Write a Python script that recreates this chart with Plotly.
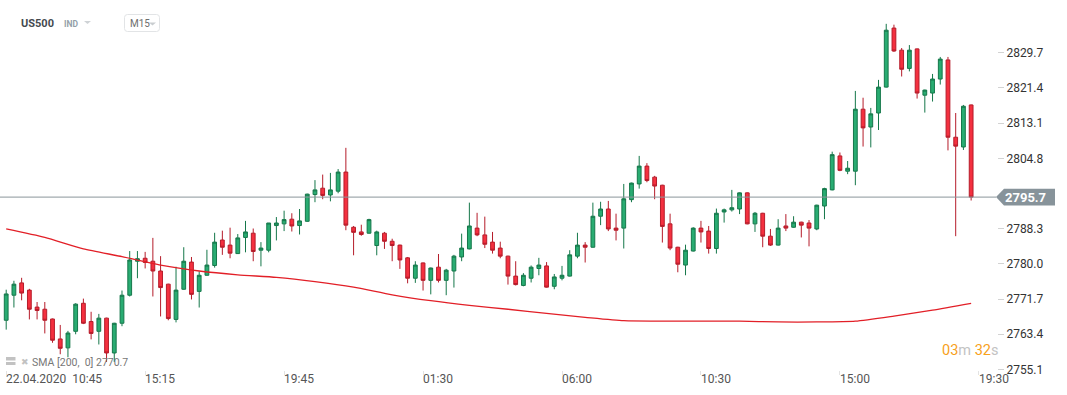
import plotly.graph_objects as go

# ---------------- data ----------------
OPEN = [2766.7, 2772.6, 2775.5, 2773.8, 2769.8, 2769.3, 2767.0, 2762.3, 2760.2, 2764.1,
        2770.7, 2766.4, 2764.1, 2767.2, 2759.0, 2766.0, 2772.6, 2780.6, 2781.3, 2780.6,
        2778.3, 2775.2, 2766.9, 2774.0, 2780.4, 2773.5, 2777.3, 2779.6, 2785.6, 2784.4,
        2782.4, 2786.2, 2787.2, 2783.2, 2783.2, 2789.0, 2789.4, 2790.5, 2789.0, 2790.0,
        2796.3, 2797.8, 2796.2, 2797.1, 2801.6, 2788.6, 2787.5, 2787.2, 2784.3, 2787.2,
        2785.3, 2784.4, 2781.4, 2776.6, 2780.2, 2776.1, 2779.2, 2776.1, 2778.3, 2781.6,
        2783.5, 2788.4, 2786.8, 2785.1, 2783.7, 2781.8, 2777.1, 2774.9, 2776.6, 2778.9,
        2779.5, 2774.7, 2776.6, 2777.1, 2781.8, 2784.4, 2783.9, 2791.2, 2792.9, 2788.4,
        2788.4, 2795.1, 2798.8, 2803.0, 2800.4, 2798.5, 2789.4, 2783.9, 2779.7, 2783.0,
        2788.4, 2787.7, 2783.6, 2792.2, 2792.7, 2792.9, 2796.7, 2789.4, 2791.9, 2786.5,
        2784.4, 2788.9, 2788.6, 2789.8, 2789.6, 2788.2, 2793.6, 2797.4, 2805.4, 2801.8,
        2801.8, 2816.4, 2812.2, 2815.5, 2821.6, 2835.5, 2830.3, 2826.0, 2830.6, 2819.7,
        2820.2, 2823.5, 2828.0, 2809.8, 2807.5, 2817.4]
HIGH = [2773.9, 2776.0, 2776.7, 2774.1, 2771.0, 2771.0, 2767.1, 2765.6, 2764.2, 2770.7,
        2771.8, 2768.7, 2768.2, 2767.3, 2766.1, 2773.7, 2783.0, 2783.0, 2782.8, 2786.1,
        2781.8, 2775.3, 2779.3, 2783.9, 2781.6, 2778.2, 2783.3, 2787.3, 2787.8, 2788.5,
        2787.0, 2790.1, 2788.3, 2785.1, 2789.6, 2791.0, 2792.5, 2791.9, 2792.9, 2796.5,
        2799.7, 2801.0, 2801.4, 2802.3, 2807.3, 2788.9, 2789.2, 2790.6, 2787.8, 2787.5,
        2785.9, 2784.5, 2781.6, 2780.6, 2780.3, 2779.1, 2782.3, 2778.8, 2782.1, 2787.1,
        2794.4, 2792.0, 2791.1, 2787.5, 2785.2, 2781.9, 2780.6, 2777.8, 2779.6, 2781.4,
        2780.4, 2777.6, 2779.5, 2783.2, 2787.3, 2785.1, 2794.4, 2794.6, 2794.8, 2791.8,
        2798.8, 2799.1, 2805.4, 2803.7, 2800.7, 2798.6, 2791.8, 2784.0, 2784.5, 2788.6,
        2790.1, 2788.9, 2793.0, 2793.0, 2797.4, 2796.8, 2796.8, 2792.2, 2792.0, 2788.2,
        2790.5, 2791.7, 2791.2, 2789.9, 2790.3, 2793.9, 2797.9, 2806.4, 2806.2, 2804.2,
        2820.7, 2819.1, 2816.7, 2823.3, 2836.5, 2836.3, 2830.8, 2831.5, 2830.7, 2821.0,
        2824.7, 2828.7, 2828.7, 2815.5, 2817.4, 2817.5]
LOW = [2764.5, 2769.7, 2771.4, 2766.9, 2766.9, 2763.6, 2761.4, 2758.7, 2758.0, 2763.4,
       2765.8, 2762.2, 2761.0, 2756.9, 2756.9, 2765.3, 2772.3, 2776.6, 2778.9, 2772.3,
       2767.6, 2766.7, 2766.2, 2773.9, 2771.6, 2769.7, 2777.2, 2779.1, 2782.1, 2781.3,
       2782.3, 2782.7, 2780.6, 2779.4, 2782.7, 2785.5, 2787.7, 2787.6, 2786.9, 2789.9,
       2794.5, 2795.2, 2794.7, 2796.6, 2787.9, 2782.0, 2786.6, 2787.1, 2782.0, 2783.5,
       2780.6, 2778.8, 2775.4, 2775.5, 2773.7, 2772.8, 2775.6, 2772.6, 2774.4, 2780.6,
       2783.4, 2786.5, 2783.7, 2782.4, 2781.3, 2775.1, 2774.9, 2774.7, 2775.6, 2777.3,
       2774.4, 2774.0, 2776.1, 2777.0, 2781.3, 2780.3, 2783.8, 2789.1, 2787.7, 2785.5,
       2783.6, 2794.5, 2797.7, 2799.2, 2795.2, 2785.0, 2783.2, 2778.0, 2777.3, 2782.9,
       2785.0, 2782.4, 2782.4, 2789.7, 2792.3, 2791.7, 2789.3, 2787.5, 2783.9, 2784.2,
       2784.3, 2787.7, 2788.5, 2786.2, 2784.1, 2787.9, 2790.5, 2797.3, 2801.8, 2801.1,
       2798.5, 2807.6, 2807.4, 2811.5, 2821.5, 2829.9, 2824.1, 2825.3, 2818.9, 2815.6,
       2818.2, 2822.2, 2806.7, 2786.5, 2806.8, 2794.9]
CLOSE = [2772.9, 2775.2, 2773.1, 2769.3, 2769.0, 2766.7, 2762.0, 2760.1, 2763.7, 2770.5,
         2766.0, 2763.6, 2767.2, 2759.0, 2766.0, 2772.6, 2780.9, 2781.2, 2780.3, 2778.3,
         2774.4, 2767.1, 2773.8, 2780.6, 2772.8, 2777.3, 2779.7, 2785.1, 2783.9, 2782.5,
         2786.1, 2787.5, 2782.9, 2783.7, 2789.6, 2789.6, 2790.4, 2788.9, 2790.1, 2796.4,
         2797.4, 2796.1, 2797.4, 2801.6, 2789.1, 2787.4, 2786.9, 2790.4, 2787.5, 2785.3,
         2784.3, 2780.9, 2776.6, 2779.7, 2776.1, 2779.0, 2776.1, 2778.5, 2781.8, 2783.7,
         2788.9, 2786.8, 2784.6, 2783.2, 2781.8, 2777.1, 2775.1, 2777.3, 2779.2, 2779.7,
         2774.5, 2776.9, 2777.3, 2782.1, 2784.4, 2783.9, 2791.2, 2792.9, 2788.2, 2787.9,
         2795.3, 2799.0, 2803.0, 2799.6, 2798.3, 2788.8, 2783.7, 2779.9, 2783.2, 2788.4,
         2787.5, 2783.6, 2791.9, 2792.7, 2793.2, 2796.7, 2789.4, 2791.9, 2786.5, 2784.4,
         2788.4, 2788.4, 2789.8, 2789.1, 2788.4, 2793.8, 2797.7, 2805.7, 2802.0, 2802.5,
         2816.4, 2812.0, 2815.3, 2821.6, 2835.0, 2830.1, 2825.8, 2830.3, 2820.2, 2820.9,
         2823.5, 2828.2, 2809.8, 2807.7, 2817.1, 2795.7]
BAR_INDEX = list(range(len(CLOSE)))

SMA_INDEX = [0, 5, 10, 15, 20, 25, 30, 35, 40, 45, 50, 55, 60, 65, 70, 75, 80, 85, 90, 95,
             100, 105, 110, 115, 120, 125]
SMA_VALUE = [2788.2, 2786.2, 2783.5, 2781.7, 2779.7, 2778.3, 2777.4, 2776.8, 2775.8, 2774.5,
             2772.7, 2771.3, 2770.2, 2769.3, 2768.3, 2767.4, 2766.6, 2766.5, 2766.5, 2766.5,
             2766.3, 2766.3, 2766.5, 2767.7, 2769.1, 2770.7]

TIME_INDEX = [0, 18, 36, 54, 72, 90, 108, 126]
TIME_LABELS = ["22.04.2020\u00a0\u00a010:45", "15:15", "19:45", "01:30", "06:00",
               "10:30", "15:00", "19:30"]

# the 2796.6 level is hidden under the live-price tag in the reference
PRICE_TICKS = [2755.1, 2763.4, 2771.7, 2780.0, 2788.3, 2804.8, 2813.1, 2821.4, 2829.7]

SYMBOL = "US500"
SYMBOL_TYPE = "IND"
TIMEFRAME = "M15"
SMA_LABEL = "SMA [200,\u00a0\u00a00] 2770.7"

# ---------------- layout geometry ----------------
W, H = 1067, 395
ML, MR, MT, MB = 0, 70, 0, 25
PW, PH = W - ML - MR, H - MT - MB
X_RANGE = [-0.803, 128.35]
Y_RANGE = [2754.99, 2842.11]
FONT = "Roboto"


def px(x):
    return x / PW


def py(y):
    return 1 - y / PH


fig = go.Figure()

fig.add_trace(go.Candlestick(
    x=BAR_INDEX, open=OPEN, high=HIGH, low=LOW, close=CLOSE,
    increasing=dict(fillcolor="#29ac72", line=dict(color="#15774a", width=1)),
    decreasing=dict(fillcolor="#f4303f", line=dict(color="#b51c2a", width=1)),
    whiskerwidth=0, showlegend=False, hoverinfo="skip",
))

fig.add_trace(go.Scatter(
    x=SMA_INDEX, y=SMA_VALUE, mode="lines",
    line=dict(color="#e21f27", width=1.3, shape="spline", smoothing=0.6),
    showlegend=False, hoverinfo="skip",
))

last = CLOSE[-1]
yc = (last - Y_RANGE[0]) / (Y_RANGE[1] - Y_RANGE[0])
half = 8.3 / PH

shapes = [
    # current price line
    dict(type="line", xref="paper", yref="y", x0=0, x1=px(996), y0=last, y1=last,
         line=dict(color="#8a959b", width=1), layer="above"),
    # price tag
    dict(type="path", xref="paper", yref="paper", layer="above",
         path=f"M {px(996)} {yc} L {px(1004)} {yc + half} L {px(1055)} {yc + half} "
              f"L {px(1055)} {yc - half} L {px(1004)} {yc - half} Z",
         fillcolor="#87939a", line=dict(width=0)),
    # dropdown triangle after IND
    dict(type="path", xref="paper", yref="paper",
         path=f"M {px(84)} {py(21)} L {px(91)} {py(21)} L {px(87.5)} {py(24)} Z",
         fillcolor="#cfd3d6", line=dict(width=0)),
    # timeframe box (rounded)
    dict(type="path", xref="paper", yref="paper",
         path=(f"M {px(127.5)} {py(14.5)} L {px(156.5)} {py(14.5)} "
               f"Q {px(159.5)} {py(14.5)} {px(159.5)} {py(17.5)} L {px(159.5)} {py(28.5)} "
               f"Q {px(159.5)} {py(31.5)} {px(156.5)} {py(31.5)} L {px(127.5)} {py(31.5)} "
               f"Q {px(124.5)} {py(31.5)} {px(124.5)} {py(28.5)} L {px(124.5)} {py(17.5)} "
               f"Q {px(124.5)} {py(14.5)} {px(127.5)} {py(14.5)} Z"),
         fillcolor="rgba(0,0,0,0)", line=dict(color="#e2e4e6", width=1)),
    dict(type="path", xref="paper", yref="paper",
         path=f"M {px(149)} {py(22.5)} L {px(156)} {py(22.5)} L {px(152.5)} {py(25.5)} Z",
         fillcolor="#c9cdd0", line=dict(width=0)),
    # indicator icon
    dict(type="rect", xref="paper", yref="paper", x0=px(6), x1=px(15.5), y0=py(357), y1=py(360.5),
         fillcolor="#c2c2c2", line=dict(width=0)),
    dict(type="rect", xref="paper", yref="paper", x0=px(6), x1=px(15.5), y0=py(362), y1=py(365),
         fillcolor="#c2c2c2", line=dict(width=0)),
]

annotations = [
    dict(x=px(1025), y=yc, xref="paper", yref="paper", text=f"<b>{last:.1f}</b>",
         showarrow=False, xanchor="center", yanchor="middle",
         font=dict(family=FONT, size=13, color="#ffffff")),
    dict(x=px(19), y=py(23), xref="paper", yref="paper", text=f"<b>{SYMBOL}</b>",
         showarrow=False, xanchor="left", yanchor="middle",
         font=dict(family=FONT, size=11, color="#454a4f")),
    dict(x=px(62), y=py(23.5), xref="paper", yref="paper", text=f"<b>{SYMBOL_TYPE}</b>",
         showarrow=False, xanchor="left", yanchor="middle",
         font=dict(family=FONT, size=8.5, color="#949fa8")),
    dict(x=px(128), y=py(23.5), xref="paper", yref="paper", text=TIMEFRAME,
         showarrow=False, xanchor="left", yanchor="middle",
         font=dict(family=FONT, size=10, color="#6e6e6e")),
    dict(x=px(19), y=py(361.5), xref="paper", yref="paper", text="\u2716",
         showarrow=False, xanchor="left", yanchor="middle",
         font=dict(family="DejaVu Sans", size=9, color="#c2c2c2")),
    dict(x=px(30), y=py(362.5), xref="paper", yref="paper", text=SMA_LABEL,
         showarrow=False, xanchor="left", yanchor="middle",
         font=dict(family=FONT, size=10.5, color="#777777")),
    dict(x=px(1000), y=py(350), xref="paper", yref="paper",
         text=("<span style='color:#f7a11c'>03</span><span style='color:#c3c3c3'>m</span> "
               "<span style='color:#f7a11c'>32</span><span style='color:#c3c3c3'>s</span>"),
         showarrow=False, xanchor="right", yanchor="middle",
         font=dict(family=FONT, size=14.5, color="#f7a11c")),
]

for idx, lab in zip(TIME_INDEX, TIME_LABELS):
    annotations.append(dict(
        x=idx, y=py(378.5), xref="x", yref="paper", text=lab, showarrow=False,
        xanchor="left", yanchor="middle", xshift=-2,
        font=dict(family=FONT, size=12, color="#555555")))

fig.update_layout(
    width=W, height=H, autosize=False,
    margin=dict(l=ML, r=MR, t=MT, b=MB, pad=0),
    paper_bgcolor="#ffffff", plot_bgcolor="#ffffff",
    font=dict(family=FONT, size=12, color="#333333"),
    showlegend=False,
    shapes=shapes, annotations=annotations,
    xaxis=dict(range=X_RANGE, showgrid=False, zeroline=False, showline=False,
               showticklabels=False, ticks="outside", tickvals=TIME_INDEX,
               ticklen=4, tickcolor="#e3e3e3", rangeslider=dict(visible=False),
               fixedrange=True),
    yaxis=dict(range=Y_RANGE, side="right", showgrid=False, zeroline=False, showline=False,
               tickvals=PRICE_TICKS, ticktext=[f"{v:.1f}" for v in PRICE_TICKS],
               ticks="outside", ticklen=6, tickcolor="#d3d3d3",
               tickfont=dict(family=FONT, size=12, color="#333333"), fixedrange=True),
)

fig.write_html("out.html", config={"displayModeBar": False},
               post_script="document.body.style.margin='0px';")
